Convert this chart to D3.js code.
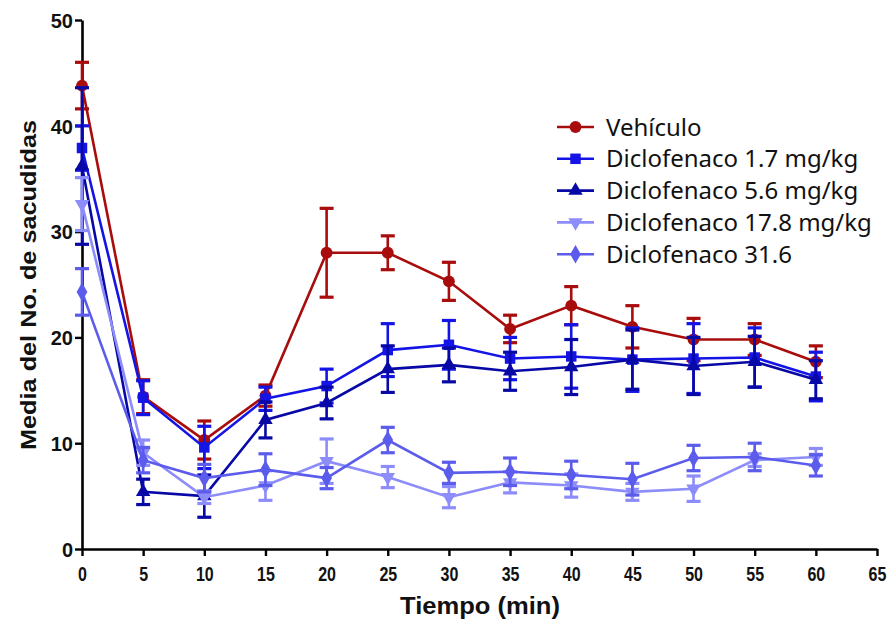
<!DOCTYPE html>
<html>
<head>
<meta charset="utf-8">
<script src="https://cdn.jsdelivr.net/npm/d3@7/dist/d3.min.js"></script>
<style>
  html, body { margin: 0; padding: 0; background: #fff; }
  svg { display: block; }
</style>
</head>
<body>
<svg id="chart" width="891" height="622"></svg>
<script>
// Time points (min)
const tiempos = [0, 5, 10, 15, 20, 25, 30, 35, 40, 45, 50, 55, 60];

// Mean number of shakes per group, with standard error
const vehiculo      = [43.8, 14.4, 10.3, 14.5, 28.0, 28.0, 25.3, 20.8, 23.0, 21.0, 19.8, 19.8, 17.7];
const vehiculoEE    = [2.2, 1.6, 1.8, 1.0, 4.2, 1.6, 1.8, 1.3, 1.8, 2.0, 2.0, 1.5, 1.5];

const diclo17       = [37.9, 14.3, 9.6, 14.2, 15.4, 18.8, 19.3, 18.0, 18.2, 17.9, 18.0, 18.1, 16.3];
const diclo17EE     = [2.1, 1.6, 2.0, 1.1, 1.6, 2.5, 2.3, 2.0, 3.0, 3.0, 3.3, 2.8, 2.3];

const diclo56       = [36.2, 5.4, 5.0, 12.2, 13.8, 17.0, 17.4, 16.8, 17.2, 17.9, 17.3, 17.7, 16.0];
const diclo56EE     = [7.4, 1.2, 2.0, 1.7, 1.5, 2.2, 1.6, 1.8, 2.6, 2.8, 2.7, 2.4, 1.8];

const diclo178      = [32.6, 9.1, 4.9, 6.0, 8.3, 6.8, 4.9, 6.3, 6.0, 5.4, 5.7, 8.4, 8.7];
const diclo178EE    = [2.5, 1.2, 0.6, 1.4, 2.1, 1.0, 1.0, 1.0, 1.1, 0.8, 1.2, 0.6, 0.8];

const diclo316      = [24.3, 8.4, 6.7, 7.5, 6.7, 10.3, 7.2, 7.3, 7.0, 6.6, 8.6, 8.7, 7.9];
const diclo316EE    = [2.2, 1.2, 1.3, 1.5, 1.0, 1.2, 1.0, 1.3, 1.3, 1.5, 1.2, 1.3, 1.0];

const nombres  = ["Vehículo", "Diclofenaco 1.7 mg/kg", "Diclofenaco 5.6 mg/kg", "Diclofenaco 17.8 mg/kg", "Diclofenaco 31.6"];
const colores  = ["#a80c0c", "#1414e6", "#0808a6", "#8c8cfa", "#5c5cec"];
const simbolos = ["circle", "square", "triangle", "triangleDown", "diamond"];

const xTicks = d3.range(0, 66, 5);
const yTicks = [0, 10, 20, 30, 40, 50];

const series = [
  { nombre: nombres[0], media: vehiculo, ee: vehiculoEE },
  { nombre: nombres[1], media: diclo17,  ee: diclo17EE },
  { nombre: nombres[2], media: diclo56,  ee: diclo56EE },
  { nombre: nombres[3], media: diclo178, ee: diclo178EE },
  { nombre: nombres[4], media: diclo316, ee: diclo316EE }
].map((s, i) => ({ ...s, color: colores[i], simbolo: simbolos[i] }));

const svg = d3.select("#chart");
const x = d3.scaleLinear().domain([0, 65]).range([82, 877]);
const y = d3.scaleLinear().domain([0, 50]).range([549, 20]);

// Marker glyphs
const markerPath = {
  circle:       d3.symbol(d3.symbolCircle, 110)(),
  square:       d3.symbol(d3.symbolSquare, 110)(),
  triangle:     d3.symbol(d3.symbolTriangle, 90)(),
  diamond:      d3.symbol(d3.symbolDiamond, 100)(),
  triangleDown: d3.symbol(d3.symbolTriangle, 90)()
};
function drawMarker(g, tipo, color) {
  const p = g.append("path").attr("d", markerPath[tipo]).attr("fill", color);
  if (tipo === "triangleDown") p.attr("transform", "rotate(180)");
  return p;
}

// Axes
const axisFont = "'Liberation Sans', Arial, sans-serif";
const yAxis = svg.append("g").attr("transform", `translate(${x(0)},0)`)
  .call(d3.axisLeft(y).tickValues(yTicks).tickSize(7).tickSizeOuter(0));
const xAxis = svg.append("g").attr("transform", `translate(0,${y(0)})`)
  .call(d3.axisBottom(x).tickValues(xTicks).tickSize(7).tickSizeOuter(0));
[xAxis, yAxis].forEach(a => {
  a.attr("font-size", null).attr("font-family", null);
  a.select(".domain").attr("stroke", "#000").attr("stroke-width", 2.6);
  a.selectAll(".tick line").attr("stroke", "#000").attr("stroke-width", 2.4);
  a.selectAll(".tick text")
    .attr("fill", "#111").attr("font-family", axisFont)
    .attr("font-weight", "bold").attr("font-size", 20);
});
yAxis.selectAll(".tick text").attr("x", -9).attr("dy", "0.36em");
// Condensed x tick labels
xAxis.selectAll(".tick text")
  .attr("x", 0).attr("y", 0).attr("dy", null)
  .attr("transform", "translate(0,32) scale(0.8,1.05)");

// Axis titles
svg.append("text")
  .attr("x", 480).attr("y", 614)
  .attr("text-anchor", "middle")
  .attr("font-family", axisFont).attr("font-weight", "bold").attr("font-size", 24)
  .attr("fill", "#111")
  .attr("textLength", 160).attr("lengthAdjust", "spacingAndGlyphs")
  .text("Tiempo (min)");
svg.append("text")
  .attr("transform", "translate(36,285) rotate(-90)")
  .attr("text-anchor", "middle")
  .attr("font-family", axisFont).attr("font-weight", "bold").attr("font-size", 22)
  .attr("fill", "#111")
  .attr("textLength", 330).attr("lengthAdjust", "spacingAndGlyphs")
  .text("Media del No. de sacudidas");

// Series: lines, error bars, markers
const plot = svg.append("g");
const line = d3.line().x((d, i) => x(tiempos[i])).y(d => y(d));
const capW = 7;
series.forEach(s => {
  const g = plot.append("g");
  g.append("path").datum(s.media)
    .attr("d", line).attr("fill", "none")
    .attr("stroke", s.color).attr("stroke-width", 2.6);
  s.media.forEach((m, i) => {
    const cx = x(tiempos[i]);
    const y1 = y(m + s.ee[i]), y2 = y(m - s.ee[i]);
    g.append("line").attr("x1", cx).attr("x2", cx).attr("y1", y1).attr("y2", y2)
      .attr("stroke", s.color).attr("stroke-width", 2.6);
    [y1, y2].forEach(yy => {
      g.append("line").attr("x1", cx - capW).attr("x2", cx + capW)
        .attr("y1", yy).attr("y2", yy)
        .attr("stroke", s.color).attr("stroke-width", 3.2);
    });
    const mk = g.append("g").attr("transform", `translate(${cx},${y(m)})`);
    drawMarker(mk, s.simbolo, s.color);
  });
});

// Legend
const legend = svg.append("g");
series.forEach((s, i) => {
  const ly = 127 + i * 31.8;
  const row = legend.append("g").attr("transform", `translate(0,${ly})`);
  row.append("line").attr("x1", 557).attr("x2", 594).attr("y1", 0).attr("y2", 0)
    .attr("stroke", s.color).attr("stroke-width", 2.6);
  const mk = row.append("g").attr("transform", "translate(575.5,0)");
  drawMarker(mk, s.simbolo, s.color);
  row.append("text").attr("x", 606).attr("y", 8.5)
    .attr("font-family", "'Noto Sans', Roboto, sans-serif")
    .attr("font-size", 24).attr("fill", "#111")
    .text(s.nombre);
});
</script>
</body>
</html>
